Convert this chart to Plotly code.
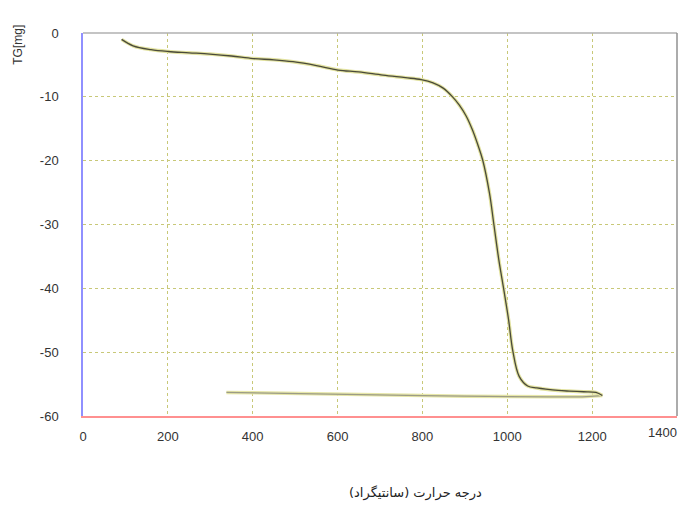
import plotly.graph_objects as go

# Heating curve (temperature °C, TG mg)
heat_T = [91, 118, 160, 201, 250, 299, 350, 401, 450, 495, 550, 601, 650, 707, 760, 797, 825, 848, 871, 887,
          903, 918, 930, 942, 958, 968, 980, 991, 1003, 1013, 1028, 1048, 1070, 1091, 1120, 1146, 1180, 1209, 1224]
heat_TG = [-1.0, -2.0, -2.6, -2.9, -3.1, -3.3, -3.6, -4.0, -4.2, -4.5, -5.1, -5.8, -6.1, -6.6, -7.0, -7.3, -7.8, -8.6, -10.0, -11.3,
           -13.0, -15.2, -17.4, -19.9, -25.1, -29.8, -35.5, -39.9, -44.9, -49.8, -53.8, -55.3, -55.6, -55.8, -56.0, -56.1, -56.2, -56.3, -56.8]

# Cooling curve
cool_T = [1224, 1177, 1100, 981, 900, 801, 700, 644, 560, 483, 400, 338]
cool_TG = [-56.8, -57.0, -57.0, -57.0, -56.9, -56.8, -56.7, -56.7, -56.6, -56.5, -56.4, -56.3]

x_ticks = [0, 200, 400, 600, 800, 1000, 1200, 1400]
x_labels = ["0", "200", "400", "600", "800", "1000", "1200", ""]
last_x_label = "1400"
y_ticks = [0, -10, -20, -30, -40, -50, -60]

fig = go.Figure()
# pale halo lines
fig.add_trace(go.Scatter(x=cool_T, y=cool_TG, mode="lines", line=dict(color="#e6e6a8", width=3.5), hoverinfo="skip", showlegend=False))
fig.add_trace(go.Scatter(x=cool_T, y=cool_TG, mode="lines", line=dict(color="#9c9c86", width=1.2), showlegend=False))
fig.add_trace(go.Scatter(x=heat_T, y=heat_TG, mode="lines", line=dict(color="#e2e2a0", width=3.5, shape="spline"), hoverinfo="skip", showlegend=False))
fig.add_trace(go.Scatter(x=heat_T, y=heat_TG, mode="lines", line=dict(color="#4a4a3a", width=1.3, shape="spline"), showlegend=False))

fig.update_layout(
    width=679, height=498,
    margin=dict(l=75, r=10, t=25, b=90, autoexpand=False),
    paper_bgcolor="white", plot_bgcolor="white",
    font=dict(family="Liberation Sans, Arial", size=13, color="#333333"),
    xaxis=dict(range=[0, 1400], tickvals=x_ticks, ticktext=x_labels,
               showgrid=True, gridcolor="#c8c878", griddash="dot", gridwidth=1,
               showline=True, linecolor="#ff9090", linewidth=1.5, zeroline=False,
               ticks="", ticklabelstandoff=8, automargin=False),
    yaxis=dict(range=[-60, 0], tickvals=y_ticks, ticktext=[str(v) for v in y_ticks],
               showgrid=True, gridcolor="#c8c878", griddash="dot", gridwidth=1,
               showline=True, linecolor="#9090ff", linewidth=1.5, zeroline=False,
               ticks="", ticklabelstandoff=20, automargin=False),
    shapes=[
        dict(type="line", xref="paper", yref="paper", x0=0, x1=1, y0=1, y1=1, line=dict(color="#b0b0b0", width=1.5)),
        dict(type="line", xref="paper", yref="paper", x0=1, x1=1, y0=0, y1=1, line=dict(color="#909090", width=1.5)),
    ],
    annotations=[
        dict(text=last_x_label, xref="paper", yref="paper", x=0.976, y=-0.042,
             showarrow=False, font=dict(size=13, color="#333333"), xanchor="center", yanchor="middle"),
        dict(text="TG[mg]", xref="paper", yref="paper", x=-0.109, y=0.97, textangle=-90,
             showarrow=False, font=dict(size=12, color="#333333"), xanchor="center", yanchor="middle"),
        dict(text="درجه حرارت (سانتیگراد)", xref="paper", yref="paper", x=0.559, y=-0.2,
             showarrow=False, font=dict(family="DejaVu Sans", size=13, color="#222222"),
             xanchor="center", yanchor="middle"),
    ],
)

fig.write_html("out.html")
